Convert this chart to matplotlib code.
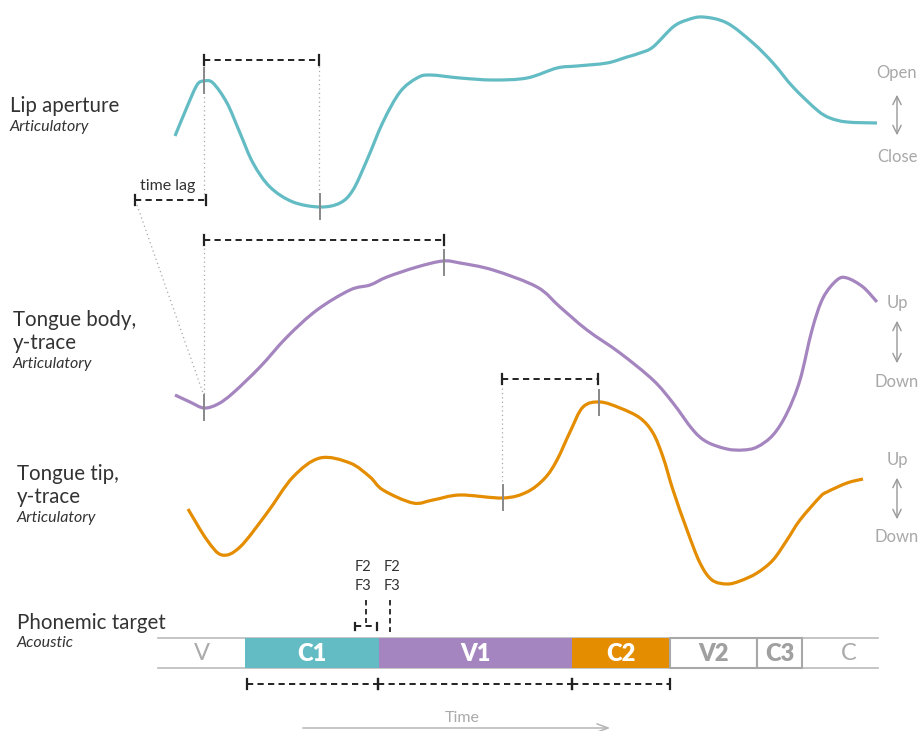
import matplotlib
matplotlib.use("Agg")
from matplotlib import pyplot as plt
from matplotlib.patches import Rectangle, FancyArrowPatch, PathPatch
from matplotlib.path import Path

plt.rcParams['font.family'] = ['Lato', 'DejaVu Sans']

# trace colours
TEAL = "#63bcc4"
PURPLE = "#a585bf"
ORANGE = "#e48d00"
GRAY = "#a8a8a8"
DARK = "#222222"
TXT = "#333333"

# lip aperture trace (pixel coords)
lip_x = [175, 187, 197, 204, 213, 227, 240, 253, 270, 293, 320, 340, 353, 367, 383, 400, 417, 430,
         460, 493, 527, 557, 577, 607, 627, 640, 653, 673, 687, 703, 727, 753, 773, 793, 817,
         830, 847, 877]
lip_y = [136, 107, 85, 81, 83, 103, 133, 163, 187, 202, 207, 203, 190, 160, 122, 92, 78, 75,
         78, 80, 78, 68, 66, 63, 57, 53, 47, 27, 20, 17, 23, 43, 63, 87, 110,
         118, 122, 123]

# tongue body trace
body_x = [175, 190, 204, 218, 233, 260, 287, 317, 350, 370, 387, 417, 443, 460, 493, 537, 560,
          587, 620, 653, 673, 693, 707, 727, 743, 757, 773, 787, 800, 812, 823, 837, 847, 863, 877]
body_y = [395, 402, 408, 404, 393, 367, 337, 310, 290, 285, 277, 267, 261, 263, 270, 287, 307,
          330, 353, 380, 403, 430, 442, 449, 450, 447, 435, 413, 380, 330, 298, 280, 278, 287, 302]

# tongue tip trace
tip_x = [188, 207, 222, 240, 267, 293, 320, 350, 370, 383, 413, 433, 460, 503, 527, 545, 557,
         570, 583, 600, 620, 640, 653, 663, 673, 687, 700, 712, 727, 740, 757, 773, 787, 800,
         820, 827, 847, 863]
tip_y = [509, 540, 555, 547, 513, 477, 458, 463, 477, 490, 503, 500, 495, 498, 492, 478, 460,
         432, 407, 402, 408, 418, 433, 457, 490, 530, 563, 580, 584, 581, 573, 560, 540, 520,
         497, 492, 483, 479]

# phoneme segments
seg_labels = ["V", "C1", "V1", "C2", "V2", "C3", "C"]
seg_edges = [158, 245, 379, 572, 670, 757, 802, 878]
seg_fill = [None, TEAL, PURPLE, ORANGE, None, None, None]

fig = plt.figure(figsize=(9.18, 7.31), dpi=100)
ax = fig.add_axes([0, 0, 1, 1])
ax.set_xlim(0, 918)
ax.set_ylim(731, 0)
ax.axis('off')


def smooth_path(xs, ys):
    # catmull-rom through the read points, drawn as cubic bezier pieces
    pts = list(zip(xs, ys))
    verts = [pts[0]]
    codes = [Path.MOVETO]
    n = len(pts)
    for i in range(n - 1):
        p0 = pts[i - 1] if i > 0 else pts[i]
        p1 = pts[i]
        p2 = pts[i + 1]
        p3 = pts[i + 2] if i + 2 < n else pts[i + 1]
        c1 = (p1[0] + (p2[0] - p0[0]) / 6, p1[1] + (p2[1] - p0[1]) / 6)
        c2 = (p2[0] - (p3[0] - p1[0]) / 6, p2[1] - (p3[1] - p1[1]) / 6)
        verts += [c1, c2, p2]
        codes += [Path.CURVE4] * 3
    return Path(verts, codes)


def dash_bar(x0, x1, y, tick=5):
    ax.plot([x0, x1], [y, y], color=DARK, lw=1.4, ls=(0, (3.2, 2.2)), zorder=5)
    for xx in (x0, x1):
        ax.plot([xx, xx], [y - tick, y + tick], color=DARK, lw=1.6, zorder=5)


def dotted(x0, y0, x1, y1):
    ax.plot([x0, x1], [y0, y1], color=GRAY, lw=0.9, ls=(0, (1, 2.5)), zorder=1)


def mark(x, y0, y1):
    ax.plot([x, x], [y0, y1], color="#888888", lw=1.4, zorder=6)


# traces
for xs, ys, c in ((lip_x, lip_y, TEAL), (body_x, body_y, PURPLE), (tip_x, tip_y, ORANGE)):
    ax.add_patch(PathPatch(smooth_path(xs, ys), facecolor='none', edgecolor=c, lw=2.3,
                           joinstyle='round', capstyle='butt', zorder=3))

# lip aperture annotations
dash_bar(204, 319, 60)
dotted(204, 66, 204, 198)
dotted(319, 66, 319, 196)
mark(204, 68, 93)
mark(320, 194, 219)
dash_bar(135, 206, 200)
ax.text(168, 186, "time lag", fontsize=11.5, color=TXT, ha='center', va='center')
dotted(137, 205, 203, 393)

# tongue body annotations
dash_bar(204, 444, 240)
dotted(204, 248, 204, 394)
mark(204, 395, 420)
mark(444, 250, 275)

# tongue tip annotations
dash_bar(502, 598, 379)
dotted(502, 388, 502, 484)
mark(503, 485, 510)
mark(599, 390, 415)

# left labels
BIG, SMALL = 14.8, 11.5
ax.text(10, 106, "Lip aperture", fontsize=BIG, color=TXT, va='center')
ax.text(10, 127, "Articulatory", fontsize=SMALL, style='italic', color=TXT, va='center')
ax.text(13, 320, "Tongue body,", fontsize=BIG, color=TXT, va='center')
ax.text(13, 343, "y-trace", fontsize=BIG, color=TXT, va='center')
ax.text(13, 364, "Articulatory", fontsize=SMALL, style='italic', color=TXT, va='center')
ax.text(17, 474, "Tongue tip,", fontsize=BIG, color=TXT, va='center')
ax.text(17, 497, "y-trace", fontsize=BIG, color=TXT, va='center')
ax.text(17, 518, "Articulatory", fontsize=SMALL, style='italic', color=TXT, va='center')
ax.text(17, 623, "Phonemic target", fontsize=BIG, color=TXT, va='center')
ax.text(17, 643, "Acoustic", fontsize=SMALL, style='italic', color=TXT, va='center')

# right direction labels
for top, bot, ya, yb, y0, y1 in (("Open", "Close", 73, 157, 92, 138),
                                 ("Up", "Down", 303, 382, 318, 366),
                                 ("Up", "Down", 460, 537, 475, 522)):
    ax.text(897, ya, top, fontsize=12, color=GRAY, ha='center', va='center')
    ax.text(897, yb, bot, fontsize=12, color=GRAY, ha='center', va='center')
    ax.add_patch(FancyArrowPatch((897, y0), (897, y1), arrowstyle='<->,head_length=6,head_width=3',
                                 color="#999999", lw=1.0, mutation_scale=1))

# phoneme bar
ytop, ybot = 638, 668
ax.plot([seg_edges[0], seg_edges[-1]], [ytop, ytop], color="#bbbbbb", lw=1.2, zorder=1)
ax.plot([seg_edges[0], seg_edges[-1]], [ybot, ybot], color="#bbbbbb", lw=1.2, zorder=1)
for i, lab in enumerate(seg_labels):
    x0, x1 = seg_edges[i], seg_edges[i + 1]
    xm = (x0 + x1) / 2
    if seg_fill[i] is not None:
        ax.add_patch(Rectangle((x0, ytop), x1 - x0, ybot - ytop, facecolor=seg_fill[i],
                               edgecolor='none', zorder=2))
        ax.text(xm, 654, lab, fontsize=17, fontweight='heavy', color='white', ha='center',
                va='center', zorder=4)
    elif lab in ("V2", "C3"):
        ax.add_patch(Rectangle((x0, ytop), x1 - x0, ybot - ytop, facecolor='white',
                               edgecolor="#a8a8a8", lw=1.5, zorder=2))
        ax.text(xm, 654, lab, fontsize=17, fontweight='heavy', color="#a0a0a0", ha='center',
                va='center', zorder=4)
    else:
        ax.text(xm if lab == "V" else 849, 654, lab, fontsize=17, fontweight='normal',
                color="#aaaaaa", ha='center', va='center', zorder=4)

# duration bars under the segments
dash_bar(247, 378, 684)
dash_bar(378, 572, 684)
dash_bar(572, 670, 684)

# formant markers
for fx in (363, 392):
    ax.text(fx, 567, "F2", fontsize=10.5, color=TXT, ha='center', va='center')
    ax.text(fx, 586, "F3", fontsize=10.5, color=TXT, ha='center', va='center')
ax.plot([366, 366], [600, 623], color=DARK, lw=1.3, ls=(0, (3, 2)))
ax.plot([390, 390], [600, 632], color=DARK, lw=1.3, ls=(0, (3, 2)))
dash_bar(355, 377, 626, tick=3.5)

# time arrow
ax.add_patch(FancyArrowPatch((300, 728), (613, 728), arrowstyle='->,head_length=8,head_width=3',
                             color="#b5b5b5", lw=1.1, mutation_scale=1))
ax.text(462, 718, "Time", fontsize=11.5, color="#aaaaaa", ha='center', va='center')

fig.savefig("out.png", dpi=100)
